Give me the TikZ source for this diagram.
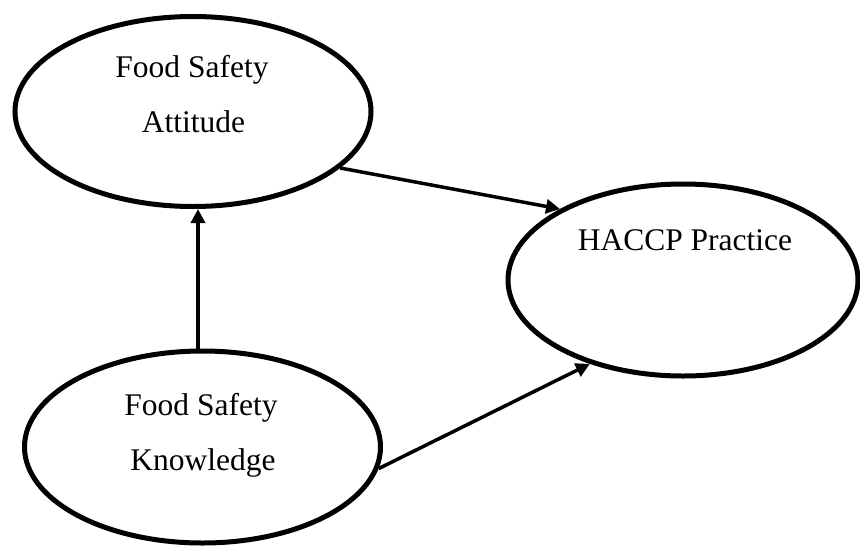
\documentclass[tikz,border=0pt]{standalone}
\usepackage{fontspec}
\setmainfont{Liberation Serif}
\usetikzlibrary{shapes.geometric,arrows.meta}
\begin{document}
\begin{tikzpicture}[x=1pt,y=-1pt,
  oval/.style={draw=black,ellipse,line width=5pt,inner sep=0pt,fill=white},
  lbl/.style={anchor=base,inner sep=0pt,font=\fontsize{31.5}{38}\selectfont},
  conn/.style={line width=3.5pt,-{Triangle[length=14pt,width=14pt]}}]
\useasboundingbox[fill=white] (0,0) rectangle (860,547);
\node[oval,minimum width=356pt,minimum height=190pt] (att) at (193,111.5) {};
\node[oval,minimum width=350pt,minimum height=192pt] (hac) at (683,280) {};
\node[oval,minimum width=356pt,minimum height=192pt] (kno) at (202.5,447) {};
\node[lbl] (att1) at (192,77) {Food Safety};
\node[lbl] (att2) at (193.5,132) {Attitude};
\node[lbl] (hac1) at (685,250) {HACCP Practice};
\node[lbl] (kno1) at (201,415) {Food Safety};
\node[lbl] (kno2) at (203,470) {Knowledge};
\draw[conn,line width=4.5pt] (kno.north -| 198,0) -- (att.south -| 198,0);
\draw[conn] (att.-21) -- (hac.150);
\draw[conn] (kno.-7) -- (hac.222);
\end{tikzpicture}
\end{document}
